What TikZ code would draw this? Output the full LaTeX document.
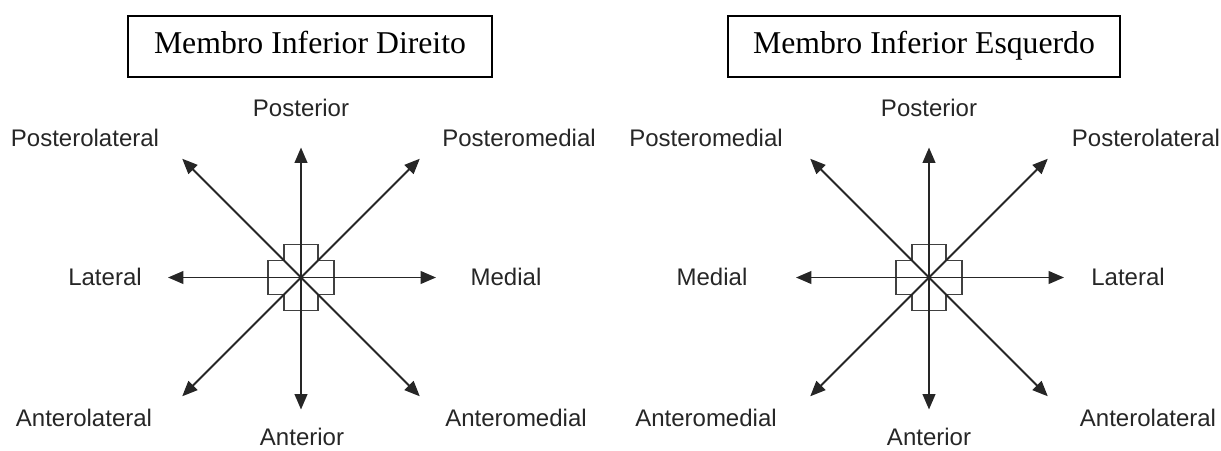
\documentclass[tikz,border=0pt]{standalone}
\usepackage{fontspec}
\setmainfont{Liberation Serif}
\setsansfont{Liberation Sans}
\usetikzlibrary{arrows.meta}

\begin{document}
\begin{tikzpicture}[x=0.75pt,y=-0.75pt,
  seta/.style={-{Triangle[length=11.5pt,width=9.5pt]},line width=1.35pt,draw=black!85},
  cruz/.style={line width=1pt,draw=black!75},
  rot/.style={font=\sffamily\fontsize{18}{20}\selectfont,text=black!85},
  titulo/.style={draw,line width=1pt,minimum height=45.75pt,text height=16pt,text depth=5pt,
    font=\fontsize{23.8}{28}\selectfont}]
\useasboundingbox (0,0) rectangle (1221,450);

% Titulos
\node[titulo,minimum width=273pt] (tD) at (310,46.5) {Membro Inferior Direito};
\node[titulo,minimum width=294pt] (tE) at (924,46.5) {Membro Inferior Esquerdo};

% Centros
\coordinate (Dc) at (301,277.5);
\coordinate (Ec) at (929,277.5);

% Cruz e setas (iguais nos dois membros)
\foreach \c in {D,E} {
  \begin{scope}[shift={(\c c)}]
    \draw[cruz] (-17,-33) -- (17,-33) -- (17,-17) -- (33,-17) -- (33,17) -- (17,17)
      -- (17,33) -- (-17,33) -- (-17,17) -- (-33,17) -- (-33,-17) -- (-17,-17) -- cycle;
  \end{scope}
  \foreach \n/\a/\r in {n/270/130, nw/225/168, ne/315/168, w/180/133,
                        e/0/135, sw/135/168, se/45/168, s/90/132} {
    \coordinate (\c\n) at ([shift={(\a:\r)}]\c c);
    \draw[seta] (\c c) -- (\c\n);
  }
}

% Membro inferior direito
\node[rot] (Dpost) at (301,108) {Posterior};
\node[rot] (Dplat) at (85,138) {Posterolateral};
\node[rot] (Dpmed) at (519,138) {Posteromedial};
\node[rot] (Dlat)  at (105,277) {Lateral};
\node[rot] (Dmed)  at (506,277) {Medial};
\node[rot] (Dalat) at (84,418) {Anterolateral};
\node[rot] (Damed) at (516,418) {Anteromedial};
\node[rot] (Dant)  at (302,437) {Anterior};

% Membro inferior esquerdo
\node[rot] (Epost) at (929,108) {Posterior};
\node[rot] (Epmed) at (706,138) {Posteromedial};
\node[rot] (Eplat) at (1146,138) {Posterolateral};
\node[rot] (Emed)  at (712,277) {Medial};
\node[rot] (Elat)  at (1128,277) {Lateral};
\node[rot] (Eamed) at (706,418) {Anteromedial};
\node[rot] (Ealat) at (1148,418) {Anterolateral};
\node[rot] (Eant)  at (929,437) {Anterior};
\end{tikzpicture}
\end{document}
